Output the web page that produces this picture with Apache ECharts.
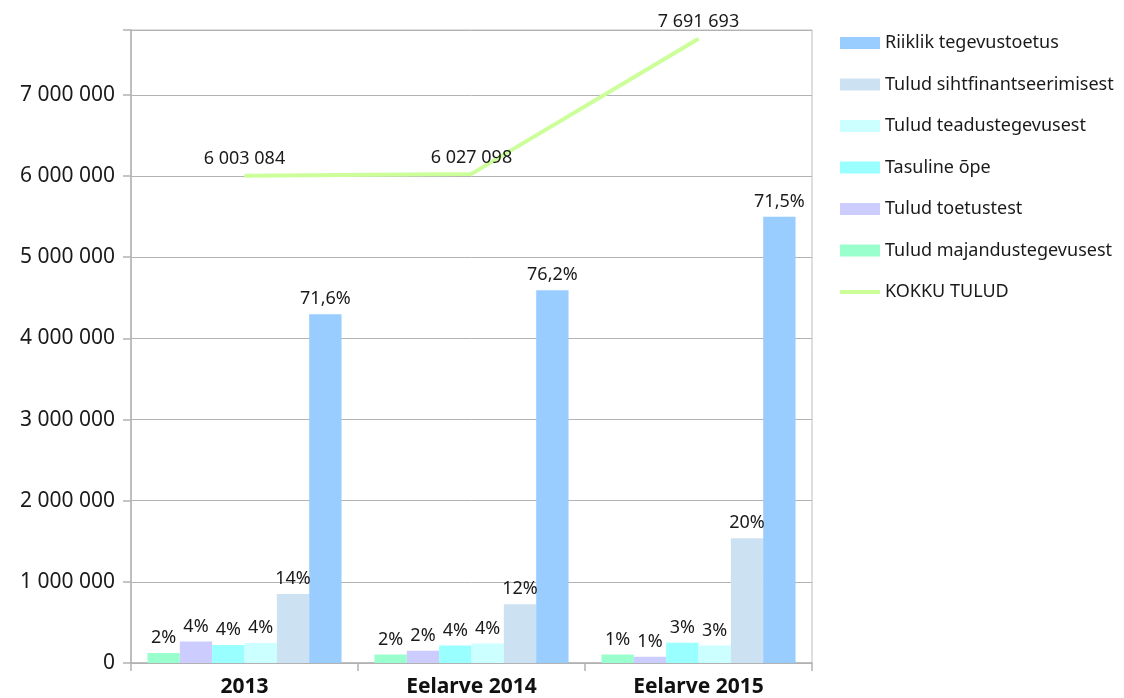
<!DOCTYPE html>
<html>
<head>
<meta charset="utf-8">
<script src="https://cdn.jsdelivr.net/npm/echarts@6/dist/echarts.min.js"></script>
<style>
  html, body { margin: 0; padding: 0; background: #fff; }
  #chart { width: 1124px; height: 698px; }
</style>
</head>
<body>
<div id="chart"></div>
<script>
const categories = ['2013', 'Eelarve 2014', 'Eelarve 2015'];

// bar series, in drawing order (left to right inside each group)
const seriesNames = [
  'Tulud majandustegevusest',
  'Tulud toetustest',
  'Tasuline õpe',
  'Tulud teadustegevusest',
  'Tulud sihtfinantseerimisest',
  'Riiklik tegevustoetus'
];
const majandus = [123000, 105000, 105000];
const toetused = [265000, 150000, 77000];
const tasuline = [222000, 215000, 250000];
const teadus = [245000, 240000, 215000];
const siht = [850000, 723000, 1538000];
const riiklik = [4298000, 4593000, 5500000];
const barValues = [majandus, toetused, tasuline, teadus, siht, riiklik];

const pctMajandus = ['2%', '2%', '1%'];
const pctToetused = ['4%', '2%', '1%'];
const pctTasuline = ['4%', '4%', '3%'];
const pctTeadus = ['4%', '4%', '3%'];
const pctSiht = ['14%', '12%', '20%'];
const pctRiiklik = ['71,6%', '76,2%', '71,5%'];
const barLabels = [pctMajandus, pctToetused, pctTasuline, pctTeadus, pctSiht, pctRiiklik];

const kokku = [6003084, 6027098, 7691693];

const barColors = ['#99ffcc', '#ccccff', '#99ffff', '#ccffff', '#cce2f2', '#99ccff'];
const LINE_COLOR = '#ccff99';
const FONT = '"Noto Sans", "Open Sans", sans-serif';

function fmt(v) {
  return String(v).replace(/\B(?=(\d{3})+(?!\d))/g, ' ');
}

const chart = echarts.init(document.getElementById('chart'));

const series = seriesNames.map((name, i) => ({
  name,
  type: 'bar',
  data: barValues[i],
  barGap: '0%',
  barCategoryGap: '14.5%',
  itemStyle: { color: barColors[i] },
  label: {
    show: true,
    position: 'top',
    distance: 6,
    color: '#1a1a1a',
    fontSize: 18,
    fontFamily: FONT,
    formatter: p => barLabels[i][p.dataIndex]
  },
  animation: false
}));

series.push({
  name: 'KOKKU TULUD',
  type: 'line',
  data: kokku,
  symbol: 'circle',
  symbolSize: 1,
  showSymbol: true,
  lineStyle: { color: LINE_COLOR, width: 4 },
  itemStyle: { color: LINE_COLOR },
  label: {
    show: true,
    position: 'top',
    distance: 7,
    color: '#1a1a1a',
    fontSize: 18,
    fontFamily: FONT,
    formatter: p => fmt(p.value)
  },
  labelLayout: { hideOverlap: false },
  z: 5,
  animation: false
});

const legendOrder = seriesNames.slice().reverse().map(n => ({ name: n, icon: 'rect' }));
legendOrder.push({
  name: 'KOKKU TULUD',
  itemStyle: { opacity: 0 },
  lineStyle: { width: 4, color: LINE_COLOR }
});

chart.setOption({
  backgroundColor: '#ffffff',
  animation: false,
  textStyle: { fontFamily: FONT },
  grid: {
    left: 131,
    right: 312,
    top: 30,
    bottom: 34,
    show: true,
    borderColor: '#bdbdbd',
    borderWidth: 1,
    containLabel: false
  },
  legend: {
    orient: 'vertical',
    left: 833,
    top: 28,
    itemWidth: 40,
    itemHeight: 12,
    itemGap: 21.5,
    data: legendOrder,
    textStyle: { color: '#1a1a1a', fontSize: 18, fontFamily: FONT, lineHeight: 20 }
  },
  xAxis: {
    type: 'category',
    data: categories,
    axisLine: { lineStyle: { color: '#b3b3b3', width: 1.5 } },
    axisTick: { show: true, length: 8, lineStyle: { color: '#b3b3b3', width: 1.5 } },
    axisLabel: {
      color: '#111',
      fontSize: 21,
      fontWeight: 'bold',
      fontFamily: FONT,
      margin: 14
    }
  },
  yAxis: {
    type: 'value',
    min: 0,
    max: 7800000,
    interval: 1000000,
    axisLine: { show: true, lineStyle: { color: '#b3b3b3', width: 1.5 } },
    axisTick: { show: true, length: 8, lineStyle: { color: '#b3b3b3', width: 1.5 } },
    axisLabel: {
      color: '#1a1a1a',
      fontSize: 21,
      fontFamily: FONT,
      margin: 16,
      formatter: v => (v % 1000000 === 0 ? fmt(v) : '')
    },
    splitLine: { lineStyle: { color: '#b3b3b3', width: 1 } }
  },
  series
});
</script>
</body>
</html>
